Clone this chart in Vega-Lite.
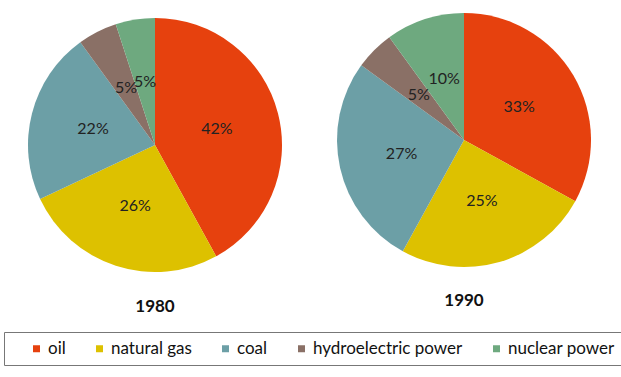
{
  "$schema": "https://vega.github.io/schema/vega-lite/v6.json",
  "background": "white",
  "padding": {"left": 3, "top": 5, "right": 5, "bottom": 5},
  "config": {
    "view": {"stroke": null},
    "concat": {"spacing": 11},
    "font": "Lato",
    "title": {"fontSize": 17, "fontWeight": "bold", "color": "#111", "font": "Lato"},
    "legend": {
      "orient": "none",
      "legendX": -2,
      "legendY": 327,
      "direction": "horizontal",
      "columns": 5,
      "strokeColor": "#777",
      "padding": 8,
      "symbolType": "square",
      "symbolSize": 49,
      "symbolStrokeWidth": 0,
      "labelFontSize": 17,
      "labelColor": "#111",
      "labelFont": "Lato",
      "columnPadding": 9,
      "symbolOffset": 16,
      "labelOffset": 3
    }
  },
  "data": {
    "values": [
      {"year": "1980", "source": "oil", "k": 1, "v": 42},
      {"year": "1980", "source": "natural gas", "k": 2, "v": 26},
      {"year": "1980", "source": "coal", "k": 3, "v": 22},
      {"year": "1980", "source": "hydroelectric power", "k": 4, "v": 5},
      {"year": "1980", "source": "nuclear power", "k": 5, "v": 5},
      {"year": "1990", "source": "oil", "k": 1, "v": 33},
      {"year": "1990", "source": "natural gas", "k": 2, "v": 25},
      {"year": "1990", "source": "coal", "k": 3, "v": 27},
      {"year": "1990", "source": "hydroelectric power", "k": 4, "v": 5},
      {"year": "1990", "source": "nuclear power", "k": 5, "v": 10}
    ]
  },
  "transform": [{"calculate": "datum.v + '%'", "as": "label"}],
  "hconcat": [
    {
      "width": 298,
      "height": 280,
      "title": {"text": "1980", "orient": "bottom", "offset": 14},
      "transform": [{"filter": "datum.year == '1980'"}],
      "encoding": {
        "theta": {"field": "v", "type": "quantitative", "stack": true},
        "order": {"field": "k", "type": "quantitative"}
      },
      "layer": [
        {
          "mark": {"type": "arc", "outerRadius": 127},
          "encoding": {
            "color": {
              "field": "source", "type": "nominal",
              "scale": {
                "domain": ["oil", "natural gas", "coal", "hydroelectric power", "nuclear power"],
                "range": ["#E6410E", "#DDC100", "#6C9FA6", "#8A7066", "#6EA97F"]
              },
              "legend": {"title": null}
            }
          }
        },
        {
          "mark": {"type": "text", "radius": 64, "fontSize": 16, "color": "#222"},
          "encoding": {"text": {"field": "label"}}
        }
      ]
    },
    {
      "width": 298,
      "height": 270,
      "title": {"text": "1990", "orient": "bottom", "offset": 18},
      "transform": [{"filter": "datum.year == '1990'"}],
      "encoding": {
        "theta": {"field": "v", "type": "quantitative", "stack": true},
        "order": {"field": "k", "type": "quantitative"}
      },
      "layer": [
        {
          "mark": {"type": "arc", "outerRadius": 127},
          "encoding": {
            "color": {
              "field": "source", "type": "nominal",
              "legend": {"title": null}
            }
          }
        },
        {
          "mark": {"type": "text", "radius": 64, "fontSize": 16, "color": "#222"},
          "encoding": {"text": {"field": "label"}}
        }
      ]
    }
  ]
}
